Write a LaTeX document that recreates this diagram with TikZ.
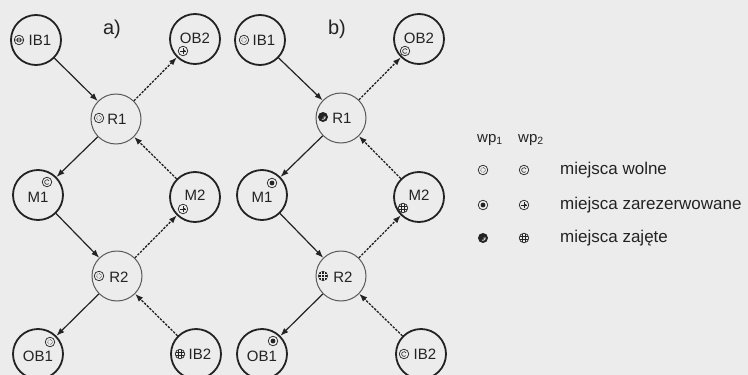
\documentclass[tikz,border=0pt]{standalone}
\usepackage{fontspec}
\setmainfont{Liberation Sans}
\usetikzlibrary{arrows.meta,calc}
\definecolor{paper}{RGB}{236,236,236}
\definecolor{ink}{RGB}{35,35,35}
\begin{document}
\begin{tikzpicture}[x=1pt,y=-1pt,
  place/.style={circle,draw=ink,line width=1.8pt,minimum size=50pt,inner sep=0pt},
  rplace/.style={place,line width=1pt,draw=ink!75},
  lbl/.style={font=\fontsize{15}{15}\selectfont,text=ink,inner sep=0pt},
  hdr/.style={font=\fontsize{20}{20}\selectfont,text=ink,inner sep=0pt},
  leg/.style={font=\fontsize{17}{17}\selectfont,text=ink,inner sep=0pt,anchor=west},
  wplbl/.style={font=\fontsize{15}{15}\selectfont,text=ink,inner sep=0pt},
  solidarr/.style={draw=ink,line width=1.2pt,-{Latex[length=8pt,width=6pt]}},
  dasharr/.style={solidarr,line width=1.3pt,dash pattern=on 2.4pt off 1.3pt},
  tk/.style={draw=ink,line width=0.7pt},
  tokA/.pic={\draw[tk] (0,0) circle (4.8); \draw[tk,line width=0.6pt,densely dotted] (0,0) circle (2.4);},
  tokB/.pic={\draw[tk] (0,0) circle (4.8); \draw[tk,line width=0.6pt] (1.7,1.7) arc (45:330:2.4);},
  tokC/.pic={\draw[tk] (0,0) circle (4.8); \fill[ink] (0,0) circle (2.4);},
  tokD/.pic={\draw[tk] (0,0) circle (4.8); \draw[tk,line width=0.6pt] (-2.6,0) -- (2.6,0) (0,-2.6) -- (0,2.6); \fill[ink] (2.7,0) -- (0.5,-1.6) -- (0.5,1.6) -- cycle;},
  tokE/.pic={\fill[ink] (0,0) circle (5); \draw[paper,line width=0.8pt] (0.4,0) -- (2.3,0) arc (0:120:2.3);},
  tokF/.pic={\draw[tk] (0,0) circle (4.8); \draw[tk,line width=0.6pt] (-4.2,-1.5) -- (4.2,-1.5) (-4.2,1.5) -- (4.2,1.5) (-1.5,-4.2) -- (-1.5,4.2) (1.5,-4.2) -- (1.5,4.2);},
  tokG/.pic={\draw[tk] (0,0) circle (4.8); \draw[tk,line width=0.6pt] (0,0) circle (2.1) (-4.8,0) -- (4.8,0);},
  tokH/.pic={\fill[ink] (0,0) circle (5); \draw[paper,line width=0.6pt] (-4,-1.5) -- (4,-1.5) (-4,1.5) -- (4,1.5) (-1.5,-4) -- (-1.5,4) (1.5,-4) -- (1.5,4);},
]
\fill[paper] (0,0) rectangle (748,375);
\useasboundingbox (0,0) rectangle (748,375);

% ---------- a) ----------
\node[hdr] (ha) at (112,29) {a)};
\node[place]  (aIB1) at (36,40) {};
\node[place]  (aOB2) at (195,39) {};
\node[rplace] (aR1)  at (116,119) {};
\node[place]  (aM1)  at (38,195) {};
\node[place]  (aM2)  at (195,197) {};
\node[rplace] (aR2)  at (117,276) {};
\node[place]  (aOB1) at (38,354) {};
\node[place]  (aIB2) at (196,354) {};

\node[lbl] (aIB1t) at ($(aIB1)+(4,0)$) {IB1};
\node[lbl] (aOB2t) at ($(aOB2)+(0,-1)$) {OB2};
\node[lbl] (aR1t)  at ($(aR1)+(1,0)$) {R1};
\node[lbl] (aM1t)  at ($(aM1)+(0,2)$) {M1};
\node[lbl] (aM2t)  at ($(aM2)+(0,-2)$) {M2};
\node[lbl] (aR2t)  at ($(aR2)+(2,1)$) {R2};
\node[lbl] (aOB1t) at ($(aOB1)+(0,2)$) {OB1};
\node[lbl] (aIB2t) at ($(aIB2)+(4,0)$) {IB2};

\draw[solidarr] (aIB1) -- (aR1);
\draw[dasharr]  (aR1) -- (aOB2);
\draw[dasharr]  (aM2) -- (aR1);
\draw[solidarr] (aR1) -- (aM1);
\draw[solidarr] (aM1) -- (aR2);
\draw[dasharr]  (aR2) -- (aM2);
\draw[dasharr]  (aIB2) -- (aR2);
\draw[solidarr] (aR2) -- (aOB1);

\pic at ($(aIB1)+(-17,0)$) {tokG};
\pic at ($(aR1)+(-17,-1)$) {tokA};
\pic at ($(aOB2)+(-12,12)$) {tokD};
\pic at ($(aM1)+(9,-13)$) {tokB};
\pic at ($(aM2)+(-12,12)$) {tokD};
\pic at ($(aR2)+(-18,0)$) {tokA};
\pic at ($(aOB1)+(12,-12)$) {tokA};
\pic at ($(aIB2)+(-16,0)$) {tokF};

% ---------- b) ----------
\node[hdr] (hb) at (337,29) {b)};
\node[place]  (bIB1) at (260,40) {};
\node[place]  (bOB2) at (419,39) {};
\node[rplace] (bR1)  at (341,118) {};
\node[place]  (bM1)  at (262,195) {};
\node[place]  (bM2)  at (419,197) {};
\node[rplace] (bR2)  at (341,276) {};
\node[place]  (bOB1) at (262,354) {};
\node[place]  (bIB2) at (421,354) {};

\node[lbl] (bIB1t) at ($(bIB1)+(4,0)$) {IB1};
\node[lbl] (bOB2t) at ($(bOB2)+(0,-1)$) {OB2};
\node[lbl] (bR1t)  at ($(bR1)+(1,0)$) {R1};
\node[lbl] (bM1t)  at ($(bM1)+(0,2)$) {M1};
\node[lbl] (bM2t)  at ($(bM2)+(0,-2)$) {M2};
\node[lbl] (bR2t)  at ($(bR2)+(2,1)$) {R2};
\node[lbl] (bOB1t) at ($(bOB1)+(0,2)$) {OB1};
\node[lbl] (bIB2t) at ($(bIB2)+(4,0)$) {IB2};

\draw[solidarr] (bIB1) -- (bR1);
\draw[dasharr]  (bR1) -- (bOB2);
\draw[dasharr]  (bM2) -- (bR1);
\draw[solidarr] (bR1) -- (bM1);
\draw[solidarr] (bM1) -- (bR2);
\draw[dasharr]  (bR2) -- (bM2);
\draw[dasharr]  (bIB2) -- (bR2);
\draw[solidarr] (bR2) -- (bOB1);

\pic at ($(bIB1)+(-16,0)$) {tokA};
\pic at ($(bR1)+(-18,-1)$) {tokE};
\pic at ($(bOB2)+(-14,12)$) {tokB};
\pic at ($(bM1)+(10,-12)$) {tokC};
\pic at ($(bM2)+(-16,11)$) {tokF};
\pic at ($(bR2)+(-18,0)$) {tokH};
\pic at ($(bOB1)+(11,-13)$) {tokC};
\pic at ($(bIB2)+(-17,0)$) {tokB};

% ---------- legend ----------
\node[wplbl] (wp1) at (490,140) {wp\textsubscript{1}};
\node[wplbl] (wp2) at (531,140) {wp\textsubscript{2}};
\pic at (483,170) {tokA};
\pic at (524,170) {tokB};
\pic at (483,205) {tokC};
\pic at (524,205) {tokD};
\pic at (483,238) {tokE};
\pic at (524,238) {tokF};
\node[leg] (l1) at (560,170) {miejsca wolne};
\node[leg] (l2) at (560,205) {miejsca zarezerwowane};
\node[leg] (l3) at (560,238) {miejsca zajęte};
\end{tikzpicture}
\end{document}
